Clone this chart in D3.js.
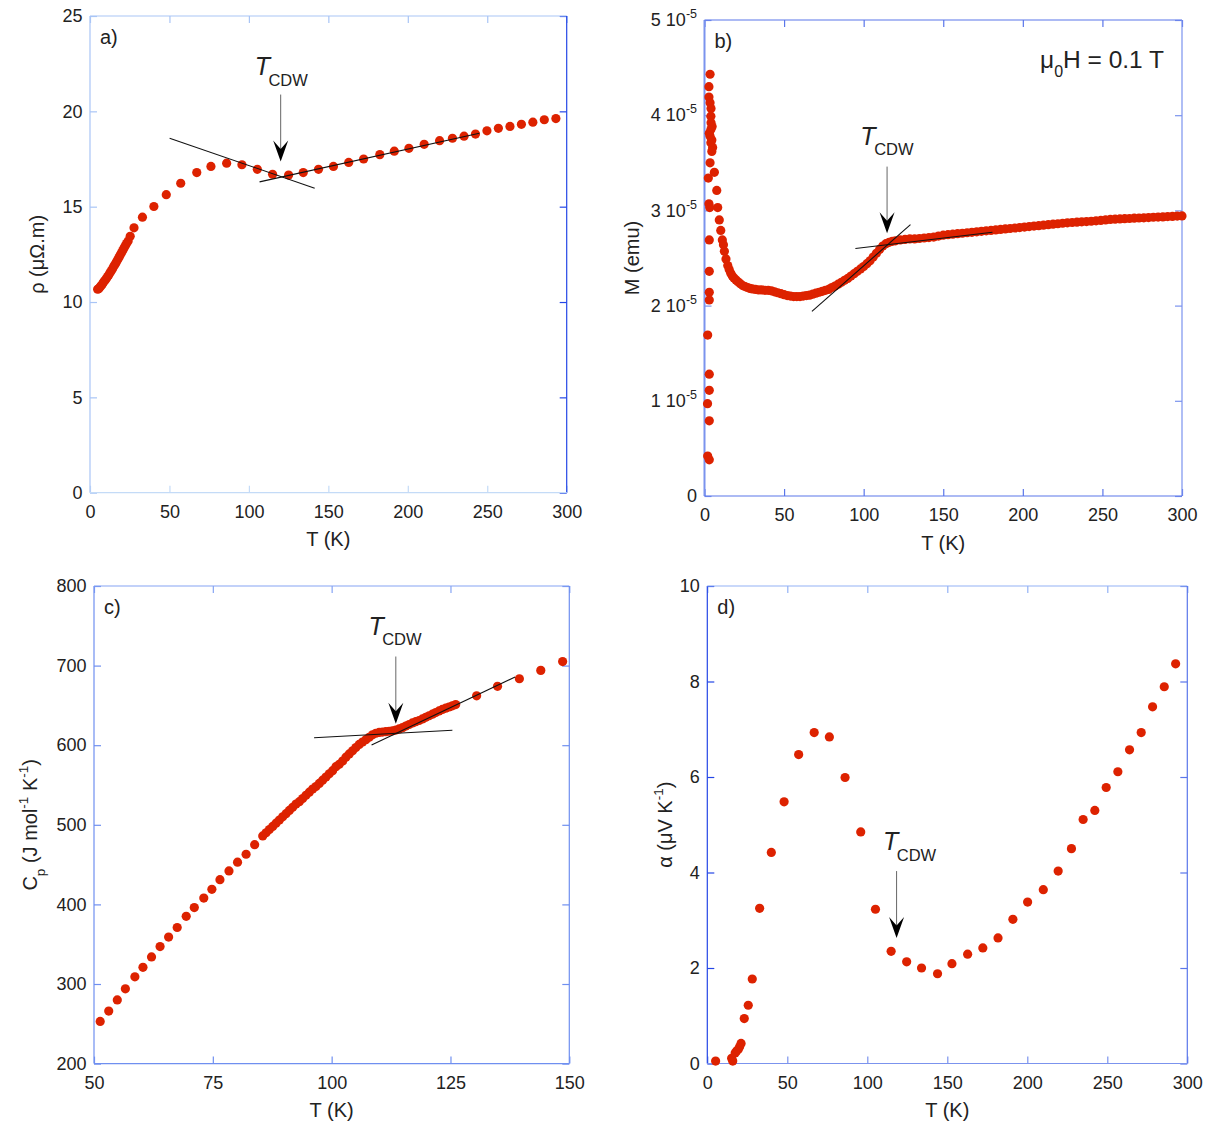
<!DOCTYPE html>
<html>
<head>
<meta charset="utf-8">
<script src="https://cdn.jsdelivr.net/npm/d3@7"></script>
<style>
  body { margin: 0; background: #fff; }
  text { font-family: "Liberation Sans", Arial, Helvetica, sans-serif; fill: #222; }
</style>
</head>
<body>
<div id="chart"></div>
<script>
// ---- a) resistivity rho (µΩ.m) vs T (K)
const rhoT = [4.8, 5.5, 6.2, 7.0, 7.8, 8.6, 9.4, 10.2, 11.0, 11.8, 12.6, 13.4, 14.2, 15.0, 15.8, 16.6, 17.4, 18.2, 19.0, 19.8,
  20.6, 21.4, 22.2, 23.0, 24.0, 25.3, 27.7, 33.0, 40.2, 48.0, 57.1, 67.2, 76.1, 86.0, 95.6, 105.3, 114.9, 125.0, 134.2,
  143.8, 153.2, 162.8, 172.2, 182.4, 191.5, 200.7, 210.3, 220.0, 228.1, 235.4, 242.6, 249.8, 257.0, 264.3, 271.5, 278.7, 285.9, 293.2];
const rhoVal = [10.67, 10.70, 10.78, 10.85, 10.95, 11.05, 11.13, 11.22, 11.32, 11.42, 11.53, 11.64, 11.75, 11.87, 11.98, 12.10, 12.22, 12.34, 12.46, 12.58,
  12.70, 12.83, 12.95, 13.07, 13.20, 13.45, 13.89, 14.45, 15.01, 15.63, 16.23, 16.79, 17.11, 17.28, 17.20, 16.96, 16.70, 16.66, 16.79,
  16.96, 17.11, 17.32, 17.50, 17.73, 17.91, 18.06, 18.27, 18.46, 18.59, 18.70, 18.81, 18.98, 19.11, 19.21, 19.32, 19.43, 19.56, 19.62];
const rhoFits = [[[50.1, 18.59], [141.4, 15.97]], [[106.7, 16.30], [245, 18.85]]];
const rhoArrow = { t: 120, from: 20.88, to: 17.37 };
const rhoXTicks = [0, 50, 100, 150, 200, 250, 300];
const rhoYTicks = [0, 5, 10, 15, 20, 25];

// ---- b) magnetisation M (emu) vs T (K), values in units of 1e-5 emu
const magT = [3.5, 2.8, 2.8, 3.5, 4.1, 4.0, 4.1, 4.8, 4.0, 3.0, 3.5, 4.6, 4.0, 5.1, 4.6, 3.5, 6.2, 2.4, 7.7, 2.8, 3.3, 8.3, 9.3, 10.2,
  11.2, 3.0, 11.9, 3.0, 3.0, 3.0, 2.0, 3.0, 3.0, 1.9, 3.0, 2.0, 3.0,
  12.5, 13.5, 14.6, 15.5, 16.5, 17.5, 18.5, 19.8, 21, 22.5, 24, 25.5, 27, 28.5, 30, 32, 34, 36, 38, 40, 42, 44, 46, 48, 50, 52, 54,
  56, 58, 60, 62, 64, 66, 68, 70, 72, 74, 76, 78, 80, 82, 84, 86, 88, 90, 92, 94, 96, 98, 100, 102, 104, 106, 108, 110, 112, 114,
  116, 118, 120, 123, 126, 129, 132, 135, 138, 141, 144, 147, 150, 153, 156, 159, 162, 165, 168, 171, 174, 177, 180, 183, 186, 189,
  192, 195, 198, 201, 204, 207, 210, 213, 216, 219, 222, 225, 228, 231, 234, 237, 240, 243, 246, 249, 252, 255, 258, 261, 264, 267,
  270, 273, 276, 279, 282, 285, 288, 291, 294, 297, 300];
const magM = [4.43, 4.30, 4.19, 4.13, 4.07, 3.99, 3.92, 3.88, 3.85, 3.81, 3.78, 3.74, 3.71, 3.66, 3.62, 3.50, 3.40, 3.34, 3.21, 3.07, 3.03, 3.03, 2.90, 2.79,
  2.69, 2.69, 2.64, 2.36, 2.14, 2.06, 1.69, 1.28, 1.11, 0.97, 0.79, 0.42, 0.38,
  2.57, 2.49, 2.42, 2.38, 2.34, 2.31, 2.29, 2.27, 2.25, 2.23, 2.21, 2.20, 2.19, 2.18, 2.175, 2.17, 2.165, 2.165, 2.16, 2.16, 2.155, 2.145, 2.135, 2.125, 2.115, 2.105, 2.10,
  2.095, 2.095, 2.095, 2.10, 2.105, 2.11, 2.12, 2.13, 2.14, 2.15, 2.16, 2.17, 2.19, 2.205, 2.225, 2.245, 2.265, 2.285, 2.31, 2.335, 2.36, 2.385, 2.41, 2.44, 2.47, 2.51, 2.55, 2.59, 2.625, 2.65,
  2.665, 2.675, 2.68, 2.69, 2.695, 2.70, 2.70, 2.705, 2.71, 2.715, 2.72, 2.73, 2.74, 2.745, 2.75, 2.755, 2.76, 2.765, 2.77, 2.775, 2.78, 2.785, 2.79, 2.795, 2.80, 2.805,
  2.81, 2.815, 2.82, 2.825, 2.83, 2.835, 2.84, 2.845, 2.85, 2.855, 2.86, 2.865, 2.87, 2.873, 2.876, 2.88, 2.883, 2.886, 2.89, 2.895, 2.90, 2.905, 2.908, 2.91, 2.913, 2.915,
  2.918, 2.92, 2.922, 2.925, 2.928, 2.93, 2.932, 2.935, 2.937, 2.94, 2.942];
const magFits = [[[67.5, 1.94], [129.4, 2.85]], [[94.8, 2.60], [180.9, 2.77]]];
const magArrow = { t: 114.7, from: 3.46, to: 2.76 };
const magXTicks = [0, 50, 100, 150, 200, 250, 300];
const magYTicks = [0, 1, 2, 3, 4, 5];

// ---- c) heat capacity Cp (J mol-1 K-1) vs T (K)
const cpT = [51.3, 53.1, 54.9, 56.6, 58.6, 60.3, 62.1, 63.9, 65.7, 67.5, 69.4, 71.1, 73.1, 74.8, 76.5, 78.4, 80.2, 82.0, 83.8,
  85.5, 86.2, 86.9, 87.6, 88.3, 89.0, 89.7, 90.4, 91.1, 91.8, 92.5, 93.2, 93.9, 94.6, 95.3, 96.0, 96.7, 97.4, 98.1, 98.8, 99.5,
  100.2, 100.9, 101.6, 102.3, 103.0, 103.7, 104.4, 105.1, 105.8, 106.5, 107.2, 107.9, 108.6, 109.3, 110.0, 110.7, 111.4, 112.1,
  112.8, 113.5, 114.2, 114.9, 115.6, 116.3, 117.0, 117.7, 118.4, 119.1, 119.8, 120.5, 121.2, 121.9, 122.6, 123.3, 124.0, 124.7,
  125.4, 126.1, 130.5, 134.9, 139.5, 144.0, 148.6];
const cpVal = [253, 266, 280, 294, 309, 321, 334, 347, 359, 371, 385, 396, 408, 419, 431, 442, 453, 463, 475,
  486, 490, 494, 498, 502, 506, 510, 514, 518, 522, 526, 529, 533, 537, 541, 545, 548, 552, 556, 560, 564,
  568, 573, 576, 580, 585, 589, 593, 597, 601, 604, 607, 610, 613, 615, 616, 616.5, 617, 617.5,
  618, 619, 620.5, 622, 624, 626, 628, 629.5, 631, 633, 635, 637, 639, 641, 643, 645, 646.5, 648,
  649.5, 651, 662, 674, 683.5, 694, 705];
const cpFits = [[[96.3, 609.3], [125.4, 618.8]], [[108.4, 600.4], [138.6, 685.7]]];
const cpArrow = { t: 113.5, from: 711.4, to: 626.8 };
const cpXTicks = [50, 75, 100, 125, 150];
const cpYTicks = [200, 300, 400, 500, 600, 700, 800];

// ---- d) thermopower alpha (µV K-1) vs T (K)
const alphaT = [5.2, 15.2, 15.9, 17.4, 18.3, 19.4, 20.2, 21.1, 23.1, 25.6, 28.1, 32.7, 40.0, 48.0, 57.1, 66.8, 76.3, 86.1, 95.9,
  105.1, 114.9, 124.6, 133.9, 143.9, 152.9, 162.7, 172.2, 181.7, 191.0, 200.2, 210.0, 219.3, 227.6, 234.9, 242.2, 249.3, 256.6,
  263.9, 271.2, 278.3, 285.6, 292.7];
const alphaVal = [0.05, 0.11, 0.05, 0.22, 0.26, 0.30, 0.35, 0.42, 0.94, 1.22, 1.77, 3.25, 4.42, 5.48, 6.47, 6.93, 6.84, 5.99, 4.85,
  3.23, 2.35, 2.13, 2.00, 1.88, 2.09, 2.29, 2.42, 2.63, 3.02, 3.38, 3.64, 4.03, 4.50, 5.11, 5.30, 5.78, 6.11,
  6.57, 6.93, 7.47, 7.89, 8.37];
const alphaArrow = { t: 118.3, from: 4.03, to: 2.63 };
const alphaXTicks = [0, 50, 100, 150, 200, 250, 300];
const alphaYTicks = [0, 2, 4, 6, 8, 10];

const red = "#dd2200";
const fontSize = 18;
const titleSize = 20;

const svg = d3.select("#chart")
  .append("svg")
  .attr("width", 1212)
  .attr("height", 1130);

function drawPanel(p) {
  const g = svg.append("g")
    .attr("transform", `translate(${p.left}, ${p.top})`);

  const xScale = d3.scaleLinear().domain(p.xDomain).range([0, p.width]);
  const yScale = d3.scaleLinear().domain(p.yDomain).range([p.height, 0]);

  // inward ticks on all four sides
  const axes = [
    { axis: d3.axisBottom(xScale).tickValues(p.xTicks).tickSize(-7).tickPadding(12.5), at: [0, p.height], color: p.frame.bottom },
    { axis: d3.axisTop(xScale).tickValues(p.xTicks).tickSize(-7).tickFormat(""), at: [0, 0], color: p.frame.top },
    { axis: d3.axisLeft(yScale).tickValues(p.yTicks).tickSize(-7).tickPadding(7.5).tickFormat(d3.format("d")), at: [0, 0], color: p.frame.left, sci: p.sciTicks },
    { axis: d3.axisRight(yScale).tickValues(p.yTicks).tickSize(-7).tickFormat(""), at: [p.width, 0], color: p.frame.right },
  ];
  axes.forEach((a) => {
    const ag = g.append("g")
      .attr("transform", `translate(${a.at[0]}, ${a.at[1]})`)
      .call(a.axis)
      .attr("color", a.color)
      .attr("font-size", fontSize)
      .attr("font-family", null);
    ag.select(".domain").remove();
    ag.selectAll(".tick line").attr("stroke-width", 1.2);
    if (a.sci) {
      // labels written as "n 10^-5"
      ag.selectAll(".tick text").each(function (d) {
        if (d === 0) return;
        const t = d3.select(this).text("");
        t.append("tspan").text(`${d} 10`);
        t.append("tspan").attr("font-size", 12.5).attr("dy", -8).text("-5");
      });
    }
  });

  // frame
  const sides = [
    ["left", 0, 0, 0, p.height],
    ["top", 0, 0, p.width, 0],
    ["right", p.width, 0, p.width, p.height],
    ["bottom", 0, p.height, p.width, p.height],
  ];
  g.selectAll("line.frame")
    .data(sides)
    .join("line")
    .attr("class", "frame")
    .attr("x1", (d) => d[1]).attr("y1", (d) => d[2])
    .attr("x2", (d) => d[3]).attr("y2", (d) => d[4])
    .attr("stroke", (d) => p.frame[d[0]])
    .attr("stroke-width", (d) => (p.frameWidth && p.frameWidth[d[0]]) || 1.2);

  // points
  g.append("g")
    .selectAll("circle")
    .data(p.xs.map((t, i) => [t, p.ys[i]]))
    .join("circle")
    .attr("cx", (d) => xScale(d[0]))
    .attr("cy", (d) => yScale(d[1]))
    .attr("r", 4.6)
    .attr("fill", red);

  // straight-line fits
  const line = d3.line().x((d) => xScale(d[0])).y((d) => yScale(d[1]));
  (p.fits || []).forEach((f) => {
    g.append("path")
      .attr("d", line(f))
      .attr("fill", "none")
      .attr("stroke", "#111")
      .attr("stroke-width", 1.1);
  });

  // T_CDW arrow
  const ax = xScale(p.arrow.t);
  const y0 = yScale(p.arrow.from);
  const y1 = yScale(p.arrow.to);
  g.append("line")
    .attr("x1", ax).attr("x2", ax)
    .attr("y1", y0).attr("y2", y1 - 10)
    .attr("stroke", "#666")
    .attr("stroke-width", 1);
  g.append("path")
    .attr("d", `M${ax},${y1} L${ax - 7.5},${y1 - 21} L${ax},${y1 - 12.5} L${ax + 7.5},${y1 - 21} Z`)
    .attr("fill", "#000");

  const lab = g.append("text")
    .attr("x", ax + p.labelOffset[0])
    .attr("y", y0 + p.labelOffset[1]);
  lab.append("tspan").attr("font-size", 25).attr("font-style", "italic").text("T");
  lab.append("tspan").attr("font-size", 16.5).attr("dx", -1.5).attr("dy", 10.5).text("CDW");

  // panel tag
  g.append("text")
    .attr("x", 10)
    .attr("y", 28)
    .attr("font-size", titleSize)
    .text(p.tag);

  // x title
  g.append("text")
    .attr("x", p.width / 2)
    .attr("y", p.height + 53.5)
    .attr("text-anchor", "middle")
    .attr("font-size", titleSize)
    .text("T (K)");

  // y title
  const yt = g.append("text")
    .attr("transform", `translate(${p.yTitleX}, ${p.height / 2}) rotate(-90)`)
    .attr("text-anchor", "middle")
    .attr("font-size", titleSize);
  p.yTitle.forEach((part) => {
    const ts = yt.append("tspan").text(part.s);
    if (part.sub) ts.attr("font-size", 13.5).attr("dy", 8);
    if (part.sup) ts.attr("font-size", 13.5).attr("dy", -9);
    if (part.back) ts.attr("dy", part.back);
  });

  return g;
}

drawPanel({
  tag: "a)", left: 90, top: 16, width: 476.7, height: 476.7,
  xDomain: [0, 300], yDomain: [0, 25], xTicks: rhoXTicks, yTicks: rhoYTicks,
  xs: rhoT, ys: rhoVal, fits: rhoFits, arrow: rhoArrow, labelOffset: [-26, -19.5],
  frame: { left: "#a9c5f6", top: "#a9c5f6", right: "#2446e6", bottom: "#c4dbf7" },
  yTitleX: -46,
  yTitle: [{ s: "ρ (μΩ.m)" }],
});

const bPanel = drawPanel({
  tag: "b)", left: 704.5, top: 20, width: 477.5, height: 476,
  xDomain: [0, 300], yDomain: [0, 5], xTicks: magXTicks, yTicks: magYTicks, sciTicks: true,
  xs: magT, ys: magM, fits: magFits, arrow: magArrow, labelOffset: [-26.7, -21.7],
  frame: { left: "#7b93ee", top: "#5a76ea", right: "#7b93ee", bottom: "#5a76ea" },
  frameWidth: { left: 2 },
  yTitleX: -66,
  yTitle: [{ s: "M (emu)" }],
});

bPanel.append("text")
  .attr("x", 335.5)
  .attr("y", 48)
  .attr("font-size", 24.5)
  .call((t) => {
    t.append("tspan").text("μ");
    t.append("tspan").attr("font-size", 16).attr("dy", 9).text("0");
    t.append("tspan").attr("dy", -9).text("H = 0.1 T");
  });

drawPanel({
  tag: "c)", left: 94, top: 586, width: 475.3, height: 477.6,
  xDomain: [50, 150], yDomain: [200, 800], xTicks: cpXTicks, yTicks: cpYTicks,
  xs: cpT, ys: cpVal, fits: cpFits, arrow: cpArrow, labelOffset: [-27.4, -21.7],
  frame: { left: "#6f8ff0", top: "#86a4f4", right: "#6f8ff0", bottom: "#6f8ff0" },
  yTitleX: -57,
  yTitle: [{ s: "C" }, { s: "p", sub: true }, { s: " (J mol", back: -8 }, { s: "-1", sup: true }, { s: " K", back: 9 }, { s: "-1", sup: true }, { s: ")", back: 9 }],
});

drawPanel({
  tag: "d)", left: 707.3, top: 586, width: 480, height: 477.5,
  xDomain: [0, 300], yDomain: [0, 10], xTicks: alphaXTicks, yTicks: alphaYTicks,
  xs: alphaT, ys: alphaVal, fits: [], arrow: alphaArrow, labelOffset: [-13.6, -20.6],
  frame: { left: "#2446e6", top: "#93b2f6", right: "#5a76ea", bottom: "#7b93ee" },
  yTitleX: -35.5,
  yTitle: [{ s: "α (μV K" }, { s: "-1", sup: true }, { s: ")", back: 9 }],
});
</script>
</body>
</html>
